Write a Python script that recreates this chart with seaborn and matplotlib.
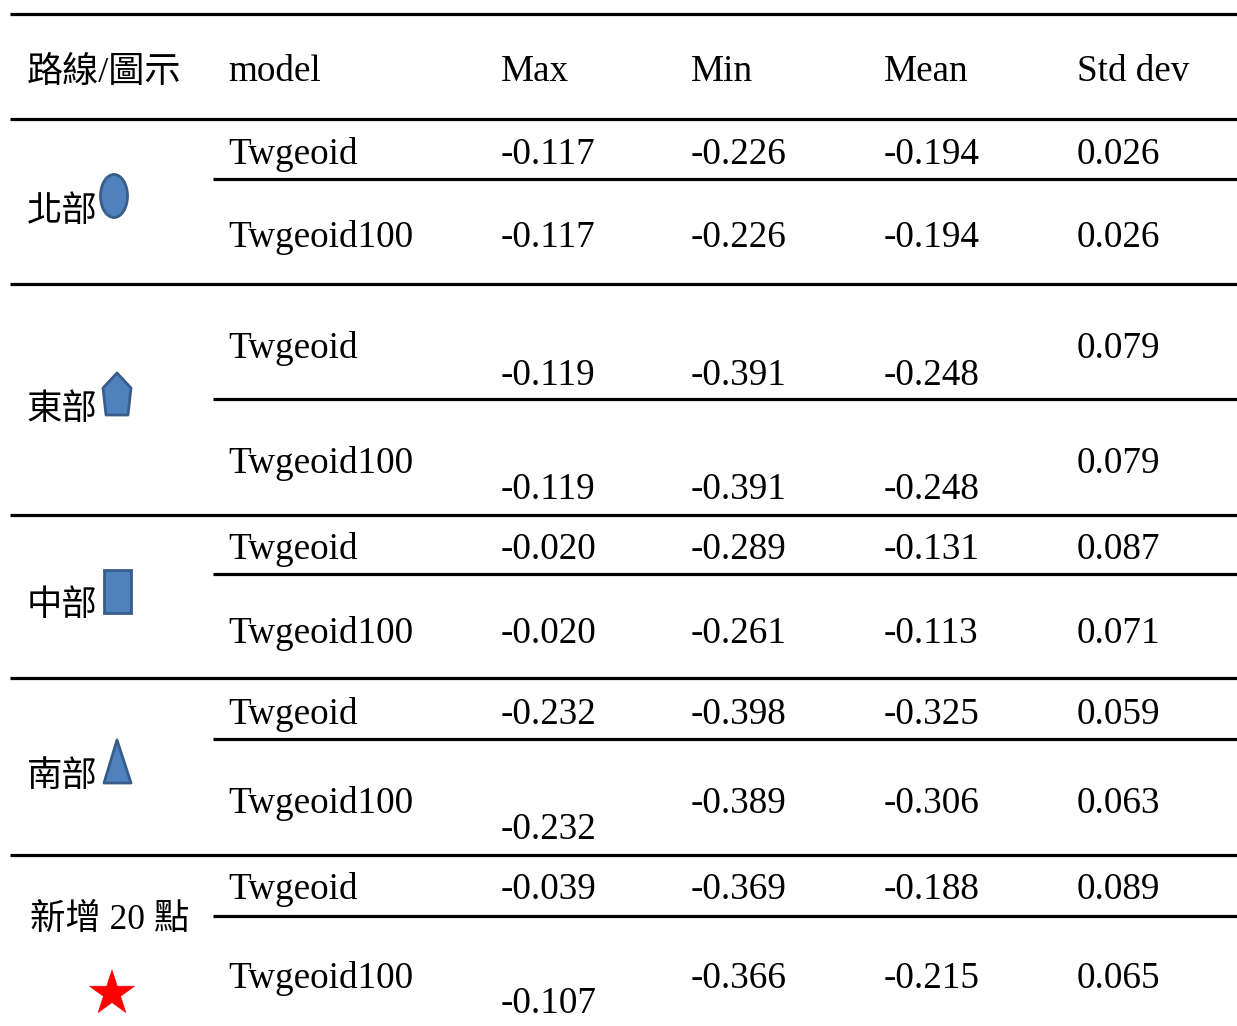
import numpy as np
import pandas as pd
import matplotlib
matplotlib.use("Agg")
import matplotlib.pyplot as plt
from matplotlib.patches import Ellipse, Polygon, Rectangle
import seaborn as sns

# table content
regions = ['北部', '東部', '中部', '南部', '新增 20 點']
models = ['Twgeoid', 'Twgeoid100']
headers = ['路線/圖示', 'model', 'Max', 'Min', 'Mean', 'Std dev']
max_vals = [-0.117, -0.117, -0.119, -0.119, -0.020, -0.020, -0.232, -0.232, -0.039, -0.107]
min_vals = [-0.226, -0.226, -0.391, -0.391, -0.289, -0.261, -0.398, -0.389, -0.369, -0.366]
mean_vals = [-0.194, -0.194, -0.248, -0.248, -0.131, -0.113, -0.325, -0.306, -0.188, -0.215]
std_vals = [0.026, 0.026, 0.079, 0.079, 0.087, 0.071, 0.059, 0.063, 0.089, 0.065]

df = pd.DataFrame({
    'region': np.repeat(regions, 2),
    'model': models * len(regions),
    'Max': max_vals, 'Min': min_vals, 'Mean': mean_vals, 'Std dev': std_vals,
})

# layout (pixels, y from top)
W, H = 1237, 1026
col_x = [27, 228, 501, 691, 884, 1077]
header_base = 81
row_base = [164, 247, 358, 473, 559, 643, 724, 813, 899, 988]
# cells whose text sits lower in the original cell
drop = {(2, 'Max'): 27, (2, 'Min'): 27, (2, 'Mean'): 27,
        (3, 'Max'): 26, (3, 'Min'): 26, (3, 'Mean'): 26,
        (7, 'Max'): 26, (9, 'Max'): 25}
full_lines = [14, 119, 284, 515, 678, 855]
part_lines = [179, 399, 574, 739, 916]
region_y = [213, 410, 607, 777, 920]

sns.set_theme(style="white")
plt.rcParams['font.family'] = ['Liberation Serif', 'Noto Sans CJK TC', 'DejaVu Sans']
plt.rcParams['text.color'] = 'black'

fig = plt.figure(figsize=(W / 100, H / 100), dpi=100)
ax = fig.add_axes([0, 0, 1, 1])
ax.set_xlim(0, W)
ax.set_ylim(H, 0)
ax.axis('off')

fs = 26.7
lw = 2.3
ax.hlines(full_lines, 10, W, color='black', lw=lw)
ax.hlines(part_lines, 213, W, color='black', lw=lw)

# header
ax.text(col_x[0], header_base - 8, headers[0], fontsize=26, va='center', ha='left', color='black')
for x, h in zip(col_x[1:], headers[1:]):
    ax.text(x, header_base, h, fontsize=fs, va='baseline', ha='left', color='black')

# body
cols = ['Max', 'Min', 'Mean', 'Std dev']
for i, row in df.iterrows():
    ax.text(col_x[1], row_base[i], row['model'], fontsize=fs, va='baseline', ha='left', color='black')
    for x, c in zip(col_x[2:], cols):
        y = row_base[i] + drop.get((i, c), 0)
        ax.text(x, y, f"{row[c]:.3f}", fontsize=fs, va='baseline', ha='left', color='black')

for j, r in enumerate(regions):
    x = 30 if j == 4 else col_x[0]
    ax.text(x, region_y[j], r, fontsize=25.5, va='center', ha='left', color='black')

# region symbols
fc, ec = '#4F81BD', '#385D8A'
ax.add_patch(Ellipse((114, 196), 27, 43, facecolor=fc, edgecolor=ec, lw=2))
ax.add_patch(Polygon([(117, 373), (131, 388), (128, 415), (106, 415), (103, 388)],
                     closed=True, facecolor=fc, edgecolor=ec, lw=2, joinstyle='round'))
ax.add_patch(Rectangle((104, 570), 27, 43, facecolor=fc, edgecolor=ec, lw=2))
ax.add_patch(Polygon([(117, 740), (131, 783), (104, 783)],
                     closed=True, facecolor=fc, edgecolor=ec, lw=2, joinstyle='round'))
cx, cy, ro = 112, 993.5, 23.5
ang = np.deg2rad(-90 + 36 * np.arange(10))
rad = np.where(np.arange(10) % 2 == 0, ro, ro * 0.382)
ax.add_patch(Polygon(np.column_stack([cx + rad * np.cos(ang), cy + rad * np.sin(ang)]),
                     closed=True, facecolor='#FF0000', edgecolor='#FF0000', lw=0.5))

fig.savefig('out.png', dpi=100, facecolor='white')
